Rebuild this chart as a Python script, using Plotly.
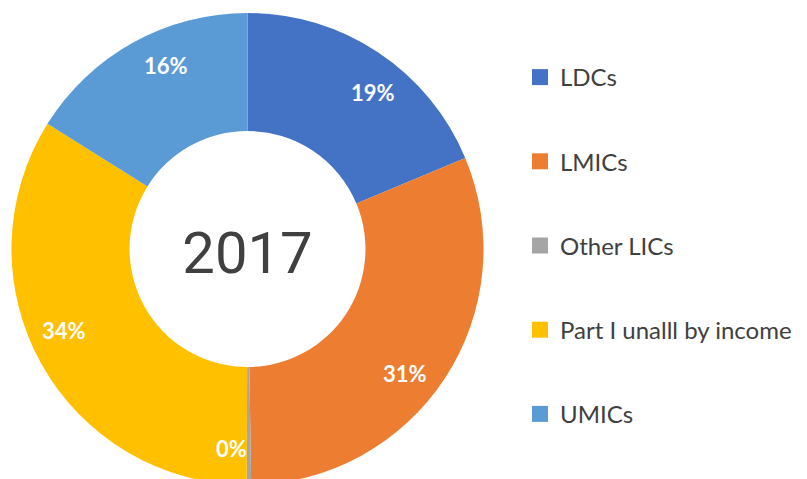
import math
import plotly.graph_objects as go

# ---- data ----
categories = ["LDCs", "LMICs", "Other LICs", "Part I unalll by income", "UMICs"]
shares = [18.7, 31.05, 0.3, 33.85, 16.1]
colors = ["#4472C4", "#ED7D31", "#A5A5A5", "#FFC000", "#5B9BD5"]
center_title = "2017"

# ---- geometry (layout) ----
W, H = 807, 490
cx, cy, R = 247.5, 249.0, 236.0
hole = 0.5
label_r = 0.85
label_rot_deg = 5.0

fig = go.Figure()
fig.add_trace(go.Pie(
    labels=categories, values=shares,
    marker=dict(colors=colors, line=dict(width=0)),
    hole=hole, sort=False, direction="clockwise", rotation=0,
    textinfo="none", hoverinfo="label+percent", showlegend=False,
    domain=dict(x=[(cx - R) / W, (cx + R) / W], y=[1 - (cy + R) / H, 1 - (cy - R) / H]),
    title=dict(text=center_title, position="middle center",
               font=dict(family="Roboto, sans-serif", size=58, color="#404040")),
))

# percent labels placed around the middle of each slice (computed from data)
total = sum(shares)
cum = 0.0
for v in shares:
    frac = v / total
    mid = (cum + frac / 2) * 2 * math.pi + math.radians(label_rot_deg)
    cum += frac
    px = cx + label_r * R * math.sin(mid)
    py = cy - label_r * R * math.cos(mid)
    fig.add_annotation(x=px / W, y=1 - py / H, xref="paper", yref="paper",
                       xanchor="center", yanchor="middle",
                       text=f"{round(frac * 100)}%", showarrow=False,
                       font=dict(family="Lato, sans-serif", size=22, color="white", weight="bold"))

# legend entries
for cat, col in zip(categories, colors):
    fig.add_trace(go.Scatter(x=[None], y=[None], mode="markers", name=cat, legendgroup=cat,
                             marker=dict(symbol="square", size=16, color=col), hoverinfo="skip"))

fig.update_layout(
    width=W, height=H, autosize=False,
    margin=dict(l=0, r=0, t=0, b=0),
    paper_bgcolor="white", plot_bgcolor="white",
    xaxis=dict(visible=False), yaxis=dict(visible=False),
    showlegend=True,
    legend=dict(x=520 / W, xanchor="left", y=1 - 55 / H, yanchor="top",
                font=dict(family="Lato, sans-serif", size=24, color="#404040"),
                tracegroupgap=50, bgcolor="rgba(0,0,0,0)"),
)

fig.write_html("out.html", config={"displayModeBar": False},
               post_script="document.body.style.margin='0';document.body.style.overflow='hidden';")
